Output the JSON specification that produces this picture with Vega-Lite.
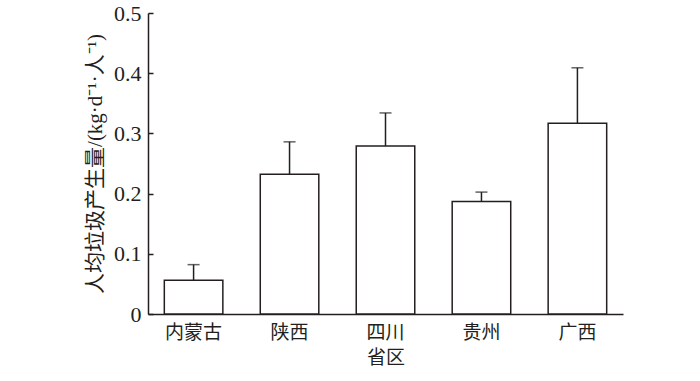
{
  "$schema": "https://vega.github.io/schema/vega-lite/v6.json",
  "width": 475,
  "height": 301,
  "autosize": {"type": "none"},
  "padding": {"left": 148, "top": 13, "right": 77, "bottom": 67},
  "background": "white",
  "data": {
    "values": [
      {"region": "内蒙古", "value": 0.056, "err": 0.082},
      {"region": "陕西", "value": 0.232, "err": 0.286},
      {"region": "四川", "value": 0.279, "err": 0.334},
      {"region": "贵州", "value": 0.187, "err": 0.2025},
      {"region": "广西", "value": 0.317, "err": 0.409}
    ]
  },
  "encoding": {
    "x": {
      "field": "region",
      "type": "nominal",
      "sort": null,
      "scale": {"paddingInner": 0.39, "paddingOuter": 0.17},
      "axis": {
        "title": "省区",
        "labelAngle": 0,
        "ticks": false,
        "labelPadding": 9,
        "labelFont": "Noto Sans CJK SC",
        "labelFontSize": 19,
        "labelColor": "#231f20",
        "titleFont": "Noto Sans CJK SC",
        "titleFontSize": 19,
        "titleFontWeight": "normal",
        "titleColor": "#231f20",
        "titlePadding": 6,
        "domainColor": "#231f20",
        "domainWidth": 1.5
      }
    }
  },
  "layer": [
    {
      "mark": {"type": "bar", "fill": "white", "stroke": "#231f20", "strokeWidth": 1.5},
      "encoding": {
        "y": {
          "field": "value",
          "type": "quantitative",
          "scale": {"domain": [0, 0.5], "nice": false},
          "axis": {
            "title": "人均垃圾产生量/(kg·d⁻¹·人⁻¹)",
            "values": [0, 0.1, 0.2, 0.3, 0.4, 0.5],
            "format": "~g",
            "grid": false,
            "tickSize": -5,
            "tickWidth": 1.5,
            "tickColor": "#231f20",
            "labelPadding": 12,
            "labelFont": "Liberation Serif",
            "labelFontSize": 22,
            "labelColor": "#231f20",
            "titleFont": "Liberation Serif, Noto Sans CJK SC",
            "titleFontSize": 21,
            "titleFontWeight": "normal",
            "titleColor": "#231f20",
            "titlePadding": 8,
            "domainColor": "#231f20",
            "domainWidth": 1.5
          }
        }
      }
    },
    {
      "mark": {"type": "rule", "stroke": "#231f20", "strokeWidth": 1.5},
      "encoding": {
        "y": {"field": "value", "type": "quantitative"},
        "y2": {"field": "err"}
      }
    },
    {
      "mark": {"type": "tick", "color": "#231f20", "size": 12, "thickness": 1.5, "orient": "horizontal"},
      "encoding": {
        "y": {"field": "err", "type": "quantitative"}
      }
    }
  ],
  "config": {
    "view": {"stroke": null}
  }
}
